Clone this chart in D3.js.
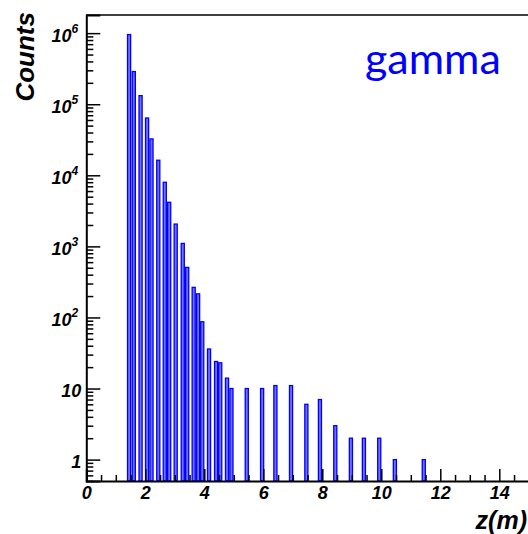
<!DOCTYPE html>
<html>
<head>
<meta charset="utf-8">
<script src="https://cdn.jsdelivr.net/npm/d3@7"></script>
<style>
  html, body { margin: 0; padding: 0; background: #fff; }
  svg { display: block; }
</style>
</head>
<body>
<svg id="chart" width="528" height="534"></svg>
<script>
// Bin centres along z (m) and entries per bin
const zCenters = [1.45, 1.61, 1.84, 2.06, 2.21, 2.44, 2.66, 2.81, 3.03, 3.27, 3.42,
                  3.64, 3.79, 3.93, 4.16, 4.40, 4.54, 4.77, 4.92, 5.44, 5.96, 6.41,
                  6.94, 7.46, 7.92, 8.44, 8.97, 9.41, 9.93, 10.46, 11.44];
const counts = [955000, 288000, 132000, 64000, 32500, 16300, 7970, 4170, 2060, 1100, 506,
                265, 215, 87, 36, 24, 23, 14, 10, 10, 10, 11,
                11, 6, 7, 3, 2, 2, 2, 1, 1];
const binWidth = 0.105;

// Axis ticks and labels
const xMajorTicks = [0, 2, 4, 6, 8, 10, 12, 14];
const xMinorStep = 0.5;
const yMajorTicks = [1, 10, 100, 1e3, 1e4, 1e5, 1e6];
const yTickBase = ["1", "10", "10", "10", "10", "10", "10"];
const yTickExp = ["", "", "2", "3", "4", "5", "6"];
const xTitle = "z(m)";
const yTitle = "Counts";
const tag = "gamma";

const svg = d3.select("#chart");
const frame = { left: 86.3, right: 558.3, top: 15, bottom: 481 };

const x = d3.scaleLinear().domain([0, 16]).range([frame.left, frame.right]);
const y = d3.scaleLog().domain([0.5, 1.8e6]).range([frame.bottom, frame.top]);

const tickFont = "'Liberation Sans', Arial, Helvetica, sans-serif";

// Bars
svg.append("g")
  .selectAll("rect")
  .data(zCenters.map((z, i) => ({ z, n: counts[i] })))
  .join("rect")
  .attr("x", d => x(d.z - binWidth / 2))
  .attr("width", d => x(d.z + binWidth / 2) - x(d.z - binWidth / 2))
  .attr("y", d => y(d.n))
  .attr("height", d => frame.bottom - y(d.n))
  .attr("fill", "#7070ff")
  .attr("stroke", "#0000ff")
  .attr("stroke-width", 1.3);

// Frame top line
svg.append("line")
  .attr("x1", frame.left).attr("x2", frame.right)
  .attr("y1", frame.top).attr("y2", frame.top)
  .attr("stroke", "#000").attr("stroke-width", 1.5);

// X axis: minor ticks
const xMinor = d3.range(xMinorStep, 16, xMinorStep).filter(v => !xMajorTicks.includes(v));
svg.append("g")
  .attr("transform", `translate(0,${frame.bottom})`)
  .call(d3.axisBottom(x).tickValues(xMinor).tickSize(-6).tickFormat(""))
  .call(g => g.select(".domain").remove())
  .selectAll("line").attr("stroke-width", 1.5);

// X axis: major ticks and labels
const xAxisG = svg.append("g")
  .attr("transform", `translate(0,${frame.bottom})`)
  .call(d3.axisBottom(x).tickValues(xMajorTicks).tickSize(-12).tickPadding(5).tickFormat(d3.format("d")));
xAxisG.select(".domain").attr("stroke-width", 2);
xAxisG.selectAll("line").attr("stroke-width", 1.5);
xAxisG.selectAll("text")
  .attr("font-family", tickFont)
  .attr("font-weight", "bold")
  .attr("font-style", "italic")
  .attr("font-size", 18)
  .attr("fill", "#000");

// Y axis: minor ticks (2..9 per decade)
const yMinor = [];
for (let e = -1; e <= 6; e++) {
  for (let m = 2; m <= 9; m++) {
    const v = m * Math.pow(10, e);
    if (v >= 0.5 && v <= 1.8e6) yMinor.push(v);
  }
}
svg.append("g")
  .attr("transform", `translate(${frame.left},0)`)
  .call(d3.axisLeft(y).tickValues(yMinor).tickSize(-7).tickFormat(""))
  .call(g => g.select(".domain").remove())
  .selectAll("line").attr("stroke-width", 1.5);

// Y axis: major ticks
const yAxisG = svg.append("g")
  .attr("transform", `translate(${frame.left},0)`)
  .call(d3.axisLeft(y).tickValues(yMajorTicks).tickSize(-14).tickFormat(""));
yAxisG.select(".domain").attr("stroke-width", 2);
yAxisG.selectAll("line").attr("stroke-width", 1.5);

// Y tick labels with superscript exponents
const yLab = svg.append("g")
  .attr("font-family", tickFont)
  .attr("font-weight", "bold")
  .attr("font-style", "italic")
  .attr("fill", "#000");
yMajorTicks.forEach((v, i) => {
  const t = yLab.append("text")
    .attr("x", frame.left - (yTickExp[i] ? 8 : 5))
    .attr("y", y(v) + 8.5)
    .attr("text-anchor", "end")
    .attr("font-size", 18);
  t.append("tspan").text(yTickBase[i]);
  if (yTickExp[i]) {
    t.append("tspan").attr("font-size", 12).attr("dy", -8.5).text(yTickExp[i]);
  }
});

// Axis titles
svg.append("text")
  .attr("transform", `translate(34,12) rotate(-90)`)
  .attr("text-anchor", "end")
  .attr("font-family", tickFont)
  .attr("font-weight", "bold")
  .attr("font-style", "italic")
  .attr("font-size", 26)
  .text(yTitle);

svg.append("text")
  .attr("x", 527).attr("y", 529)
  .attr("text-anchor", "end")
  .attr("font-family", tickFont)
  .attr("font-weight", "bold")
  .attr("font-style", "italic")
  .attr("font-size", 25)
  .text(xTitle);

// Particle tag
svg.append("text")
  .attr("x", 365).attr("y", 74)
  .attr("font-family", "Lato, 'Noto Sans', sans-serif")
  .attr("font-size", 43)
  .attr("fill", "#0000ff")
  .text(tag);
</script>
</body>
</html>
